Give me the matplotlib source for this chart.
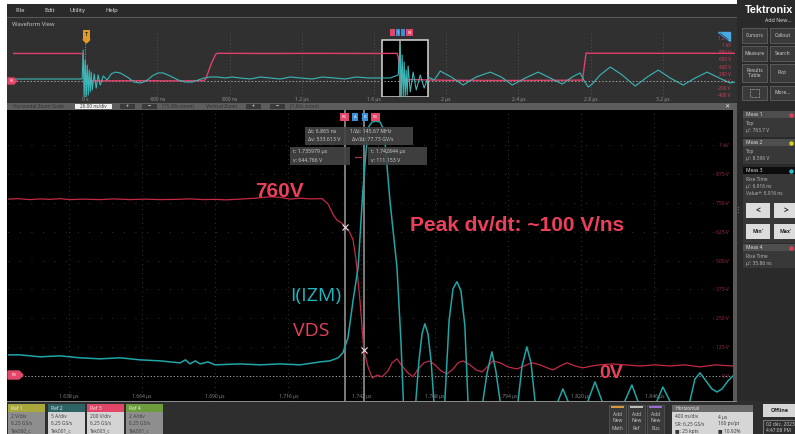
import matplotlib
matplotlib.use("Agg")
import matplotlib.pyplot as plt
from matplotlib.patches import Rectangle, Polygon
from matplotlib import transforms

# -----------------------------------------------------------------------------
# Data
# -----------------------------------------------------------------------------

# Zoomed window, 26 ns/div, time in ns
vds_t = [1616.5, 1620.0, 1624.3, 1628.0, 1631.4, 1635.0, 1638.5, 1643.0, 1649.2,
         1654.0, 1659.8, 1665.0, 1670.5, 1676.0, 1681.1, 1686.0, 1690.0, 1694.0,
         1698.9, 1704.2, 1709.5, 1713.1, 1716.6, 1720.2, 1723.7, 1728.0, 1730.1,
         1731.9, 1733.3, 1735.1, 1735.979, 1737.5, 1739.0, 1740.1, 1741.5, 1742.844,
         1744.3, 1745.8, 1747.6, 1749.3, 1751.4, 1752.8, 1754.6, 1756.4, 1758.5,
         1760.3, 1762.1, 1764.2, 1766.3, 1768.5, 1770.2, 1772.4, 1774.5, 1776.3,
         1778.0, 1780.5, 1782.7, 1784.8, 1786.6, 1788.7, 1791.2, 1794.0, 1797.2,
         1799.7, 1802.5, 1805.4, 1807.9, 1810.0, 1812.5, 1815.0, 1817.8, 1820.6,
         1823.8, 1826.7, 1830.9, 1835.5, 1840.9, 1846.2, 1851.5, 1856.8, 1862.2,
         1867.5, 1873.9]
vds_v = [766, 768, 764, 767, 765, 768, 764, 766, 764,
         767, 764, 766, 764, 765, 767, 764, 765, 763,
         766, 770, 776, 774, 766, 770, 767, 768, 745,
         700, 675, 662, 644.766, 630, 590, 500, 320, 111.153,
         40, -9, 4, -4, 22, 56, 74, 43, 13,
         -4, 30, 57, 65, 43, 22, 9, 30, 57,
         65, 48, 26, 17, 39, 65, 57, 39, 30,
         43, 57, 48, 35, 26, 43, 57, 43, 35,
         43, 48, 52, 48, 43, 48, 43, 48, 39,
         48, 43]

izm_t = [1616.5, 1620.8, 1627.9, 1635.0, 1642.1, 1649.2, 1656.3, 1663.4, 1670.5,
         1674.0, 1677.6, 1679.5, 1681.1, 1683.0, 1684.7, 1687.5, 1690.0, 1698.9,
         1706.0, 1713.1, 1720.2, 1725.0, 1727.3, 1730.8, 1733.7, 1735.4, 1737.2,
         1739.0, 1740.8, 1742.5, 1744.3, 1745.7, 1747.1, 1748.6, 1750.0, 1752.1,
         1754.6, 1756.0, 1757.1, 1759.3, 1761.3, 1762.4, 1763.5, 1764.5, 1765.6,
         1766.7, 1767.7, 1769.6, 1771.6, 1773.1, 1774.5, 1775.9, 1777.3, 1778.7,
         1779.8, 1782.4, 1785.1, 1786.6, 1788.3, 1789.7, 1791.2, 1794.4, 1797.6,
         1799.0, 1800.7, 1802.2, 1803.6, 1807.6, 1811.8, 1813.5, 1815.3, 1818.9,
         1822.4, 1824.9, 1827.4, 1831.3, 1835.5, 1838.0, 1840.1, 1843.6, 1846.9,
         1849.0, 1851.5, 1855.1, 1858.6, 1860.4, 1862.2, 1864.3, 1866.4, 1868.2,
         1870.0, 1872.1, 1873.9]
izm_a = [2.28, 2.28, 2.07, 2.17, 1.96, 1.85, 1.96, 1.74, 1.63,
         1.52, 1.41, 1.74, 1.30, 1.63, 1.30, 1.52, 1.20, 1.30,
         1.20, 1.30, 1.20, 1.41, 1.52, 1.63, 1.96, 2.5, 4.13,
         8.15, 11.74, 20.1, 26.85, 27.5, 27.6, 27.5, 26.6, 19.0,
         11.74, 3.8, -4.5, -8.0, -2.72, 1.63, 4.57, 5.65, 4.57,
         1.63, -2.72, -8.0, -2.72, 5.98, 9.46, 10.2, 9.24, 5.43,
         -2.72, -7.0, -2.72, 0.33, 2.61, 0.54, -2.72, -7.0, -2.72,
         1.09, 3.15, 1.41, -2.72, -6.0, -2.72, -1.41, -2.72, -6.0,
         -2.72, -0.65, -2.72, -6.0, -2.72, -0.98, -2.72, -6.0, -2.72,
         -1.2, -2.72, -6.0, -2.72, -0.33, 0.33, -0.54, -1.41, -1.74,
         -1.41, -0.54, 0.0]

# Overview record, 400 ns/div, time in us
ov_vds_t = [-0.4, -0.02, -0.012, -0.006, 0.0, 0.1, 0.3, 0.5, 0.655, 0.668, 0.70,
            0.725, 0.74, 1.0, 1.3, 1.6, 1.728, 1.735, 1.743, 1.747, 1.8, 2.0, 2.3,
            2.6, 2.755, 2.765, 2.775, 2.79, 3.2, 3.6]
ov_vds_v = [765, 765, 730, 80, 10, 5, 10, 5, 10, 60, 500,
            760, 770, 765, 768, 765, 768, 650, 110, -10, 40, 20, 15,
            20, 25, 400, 780, 770, 770, 770]

ov_izm_t = [-0.399, -0.139, -0.017, -0.011, -0.006, 0.0, 0.006, 0.011, 0.017, 0.022,
            0.028, 0.033, 0.039, 0.050, 0.061, 0.072, 0.083, 0.100, 0.122, 0.144,
            0.166, 0.194, 0.233, 0.271, 0.305, 0.338, 0.371, 0.404, 0.432, 0.471,
            0.515, 0.554, 0.593, 0.626, 0.659, 0.693, 0.731, 0.776, 0.814, 0.859,
            0.914, 0.970, 1.025, 1.080, 1.136, 1.191, 1.258, 1.313, 1.380, 1.440,
            1.501, 1.568, 1.634, 1.690, 1.734, 1.745, 1.751, 1.756, 1.762, 1.767,
            1.773, 1.778, 1.784, 1.789, 1.801, 1.817, 1.834, 1.856, 1.878, 1.900,
            1.934, 1.967, 2.028, 2.094, 2.166, 2.244, 2.305, 2.366, 2.438, 2.510,
            2.576, 2.643, 2.698, 2.742, 2.765, 2.787, 2.809, 2.853, 2.909, 2.975,
            3.047, 3.114, 3.175, 3.241, 3.313, 3.380, 3.446, 3.512, 3.573, 3.601]
ov_izm_a = [1.4, 1.4, 1.4, 21.5, -11.1, 14.6, -11.1, 11.1, -9.7, 7.6,
            -7.6, 6.2, -6.2, 4.9, -4.9, 4.2, -2.8, 3.5, 0.7, 4.9,
            6.2, 5.6, 2.8, -0.7, -1.4, 0.0, 3.5, 5.6, 5.6, 3.5,
            0.7, -0.7, -0.7, 0.7, 2.1, 2.8, 2.8, 2.1, 2.8, 2.1,
            1.4, 2.8, 2.1, 1.4, 2.8, 2.1, 1.4, 2.8, 2.1, 1.4,
            2.8, 2.1, 2.1, 2.1, 4.2, 25.0, -11.1, 18.0, -11.1, 13.2,
            -10.4, 7.6, -9.7, 10.4, -7.6, 6.2, -6.2, 4.2, -4.9, 2.8,
            0.7, 6.9, 2.8, -2.8, 2.8, 6.2, 2.8, -2.8, 2.1, 6.2,
            2.1, -2.1, 2.8, 5.6, 0.0, -4.2, -2.1, 4.2, 9.7, 4.2,
            -3.5, 2.8, 7.6, 2.1, -2.8, 2.1, 6.2, 2.1, -1.4, -0.7]

main_ticks = [1638, 1664, 1690, 1716, 1742, 1768, 1794, 1820, 1846]
main_tick_labels = ["1.638 µs", "1.664 µs", "1.690 µs", "1.716 µs", "1.742 µs",
                    "1.768 µs", "1.794 µs", "1.820 µs", "1.846 µs"]
main_levels = [0, 125, 250, 375, 500, 625, 750, 875, 1000]
main_level_labels = ["0 V", "125 V", "250 V", "375 V", "500 V", "625 V",
                     "750 V", "875 V", "1 kV"]
ov_ticks = [0, 0.4, 0.8, 1.2, 1.6, 2.0, 2.4, 2.8, 3.2]
ov_tick_labels = ["0 s", "400 ns", "800 ns", "1.2 µs", "1.6 µs", "2 µs",
                  "2.4 µs", "2.8 µs", "3.2 µs"]
ov_levels = [-400, -200, 0, 200, 400, 600, 800, 1000, 1200]
ov_level_labels = ["-400 V", "-200 V", "0 V", "200 V", "400 V", "600 V",
                   "800 V", "1 kV", "1.2 kV"]

cursor_t = [1735.979, 1742.844]
cursor_v = [644.766, 111.153]
zoom_box_us = [1.645, 1.900]

# -----------------------------------------------------------------------------
# Style
# -----------------------------------------------------------------------------

plt.rcParams["font.family"] = ["Open Sans", "DejaVu Sans"]
W, H = 795, 434
RED = "#c42a45"
RED_OV = "#e0406a"
CYAN = "#1fa6a6"
CYAN_OV = "#3cb6b6"
NOTE_RED = "#ec3f5c"
PINK = "#e2476a"
BLUE = "#3a8fd8"


def frac(x0, y0, x1, y1):
    return [x0 / W, 1 - y1 / H, (x1 - x0) / W, (y1 - y0) / H]


def box(axis, x0, y0, x1, y1, fc, ec="none", lw=0.6, alpha=1.0):
    axis.add_patch(Rectangle((x0, y0), x1 - x0, y1 - y0, facecolor=fc,
                             edgecolor=ec, linewidth=lw, alpha=alpha))


def txt(axis, x, y, s, size=3.8, color="#d0d0d0", **kw):
    kw.setdefault("va", "center")
    axis.text(x, y, s, fontsize=size, color=color, **kw)


def pixel_axes(fig, z):
    a = fig.add_axes([0, 0, 1, 1])
    a.set_xlim(0, W)
    a.set_ylim(H, 0)
    a.axis("off")
    a.set_zorder(z)
    a.patch.set_visible(False)
    return a


fig = plt.figure(figsize=(W / 100, H / 100), dpi=100, facecolor="white")
bg = pixel_axes(fig, 0)

# -----------------------------------------------------------------------------
# Window chrome
# -----------------------------------------------------------------------------

box(bg, 7, 4, 737, 17, "#2a2a2a")
for x, s in [(15, "File"), (44, "Edit"), (70, "Utility"), (105, "Help")]:
    txt(bg, x, 10.5, s, 4.2, "#e8e8e8")
box(bg, 7, 17, 737, 103, "#303030")
box(bg, 7, 17, 737, 17.7, "#5a5a5a")
txt(bg, 12, 24, "Waveform View", 4.2, "#cfcfcf")

# zoom toolbar
box(bg, 7, 103, 737, 110, "#5d5d5d")
dark = "#2a2a2a"
txt(bg, 13, 106.5, "Horizontal Zoom Scale", 3.5, dark)
box(bg, 75, 104, 112, 109.3, "#f0f0f0")
txt(bg, 93.5, 106.6, "26.00 ns/div", 3.4, dark, ha="center")
for x0, s in [(120, "+"), (142, "−"), (246, "+"), (270, "−")]:
    box(bg, x0, 104, x0 + 15, 109.3, "#3a3a3a")
    txt(bg, x0 + 7.5, 106.5, s, 4, "white", ha="center")
txt(bg, 162, 106.5, "(15.38x zoom)", 3.5, dark)
txt(bg, 206, 106.5, "Vertical Zoom", 3.5, dark)
txt(bg, 290, 106.5, "(1.60x zoom)", 3.5, dark)
txt(bg, 727, 106.5, "✕", 4.5, "#e8e8e8", ha="center")

box(bg, 7, 110, 733, 401, "black")
box(bg, 733, 110, 737, 401, "#5a5a5a")
txt(bg, 738.5, 210, "⋮", 5, "#9a9a9a", ha="center")

# bottom bar
box(bg, 7, 401, 795, 434, "#2e2e2e")
box(bg, 7, 400.5, 737, 401.8, "#8a8a8a")
refs = [
    (8, "Ref 1", "#a8a83c", "#8e8e8e", ["2 V/div", "6.25 GS/s", "Tek000_c"]),
    (48, "Ref 2", "#2e6466", "#d4d4d4", ["5 A/div", "6.25 GS/s", "Tek001_c"]),
    (87, "Ref 3", PINK, "#d4d4d4", ["200 V/div", "6.25 GS/s", "Tek003_c"]),
    (126, "Ref 4", "#6d9c3c", "#8e8e8e", ["2 A/div", "6.25 GS/s", "Tek001_c"]),
]
for x0, name, head, body, lines in refs:
    box(bg, x0, 404, x0 + 37, 412, head)
    box(bg, x0, 412, x0 + 37, 434, body)
    txt(bg, x0 + 3, 408, name, 3.6, "#f2f2f2")
    for i, s in enumerate(lines):
        txt(bg, x0 + 3, 416.5 + 7 * i, s, 3.5, "#3a3a3a")

for x0, word, stripe in [(609, "Math", "#d9963a"), (628, "Ref", "#bbbbbb"),
                         (647, "Bus", "#9c6cd6")]:
    box(bg, x0, 405, x0 + 17, 434, "#3a3a3a", "#5a5a5a", 0.5)
    box(bg, x0 + 2, 406, x0 + 15, 407.6, stripe)
    for i, s in enumerate(["Add", "New", word]):
        txt(bg, x0 + 8.5, 414 + 7 * i, s, 3.5, "#cfcfcf", ha="center")

box(bg, 672, 405, 753, 412, "#6a6a6a")
box(bg, 672, 412, 753, 434, "#d6d6d6")
txt(bg, 675, 408.5, "Horizontal", 3.6, "#eeeeee")
for i, (a, b) in enumerate([("400 ns/div", "4 µs"), ("SR: 6.25 GS/s", "160 ps/pt"),
                            ("■: 25 kpts", "■ 10.92%")]):
    txt(bg, 675, 417 + 7 * i, a, 3.5, "#333333")
    txt(bg, 718, 417 + 7 * i, b, 3.5, "#333333")

box(bg, 763, 404, 798, 417, "#d6d6d6")
txt(bg, 780, 410.5, "Offline", 3.8, "#222222", ha="center", fontweight="bold")
box(bg, 763, 420, 798, 436, "#2e2e2e", "#8a8a8a", 0.6)
txt(bg, 766, 425, "02 déc. 2023", 3.5, "#cfcfcf")
txt(bg, 766, 431, "4:47:08 PM", 3.5, "#cfcfcf")

# right side panel
box(bg, 737, 0, 795, 401, "#2a2a2a")
txt(bg, 745, 10, "Tektronix", 7.8, "white", fontfamily="Liberation Sans",
    fontweight="bold")
txt(bg, 778, 21, "Add New...", 3.8, "#e0e0e0", ha="center")
buttons = [(28, 43, "Cursors", "Callout"), (46, 61, "Measure", "Search"),
           (64, 82, "Results\nTable", "Plot"), (86, 100, "", "More...")]
for y0, y1, left, right in buttons:
    for x0, s in [(742, left), (770, right)]:
        box(bg, x0, y0, x0 + 25, y1, "#3a3a3a", "#6a6a6a", 0.5)
        txt(bg, x0 + 12.5, (y0 + y1) / 2, s, 3.6, "#d8d8d8", ha="center",
            linespacing=1.0)
bg.add_patch(Rectangle((750, 89), 9, 8, facecolor="none", edgecolor="#cfcfcf",
                       linewidth=0.5, linestyle=(0, (1, 1))))

meas = [
    (111, 137, "Meas 1", "#e0405c", ["Top", "µ': 763.7 V"], "#4e4e4e"),
    (139, 164, "Meas 2", "#d6d020", ["Top", "µ': 8.596 V"], "#4e4e4e"),
    (167, 243, "Meas 3", "#2cc0d0", ["Rise Time", "µ': 6.916 ns",
                                     "Value*: 6.916 ns"], "#0c0c0c"),
    (244, 268, "Meas 4", "#e0405c", ["Rise Time", "µ': 35.86 ns"], "#4e4e4e"),
]
for y0, y1, name, dot, lines, head in meas:
    box(bg, 743, y0, 796, y0 + 7, head)
    box(bg, 743, y0 + 7, 796, y1, "#383838")
    txt(bg, 746, y0 + 3.7, name, 3.6, "#e6e6e6")
    bg.plot([791], [y0 + 3.5], "o", ms=2.2, color=dot)
    for i, s in enumerate(lines):
        txt(bg, 746, y0 + 12.5 + 7.2 * i, s, 3.5, "#bdbdbd")
for y0, l, r in [(203, "<", ">"), (224, "Min'", "Max'")]:
    box(bg, 746, y0, 770, y0 + 15, "#dcdcdc")
    box(bg, 774, y0, 797, y0 + 15, "#dcdcdc")
    size = 6 if l == "<" else 3.6
    txt(bg, 758, y0 + 7.5, l, size, "#222222", ha="center", fontweight="bold")
    txt(bg, 785.5, y0 + 7.5, r, size, "#222222", ha="center", fontweight="bold")

# -----------------------------------------------------------------------------
# Overview waveform
# -----------------------------------------------------------------------------

ov = fig.add_axes(frac(13, 30, 735, 97))
ov.set_facecolor("#303030")
ov2 = ov.twinx()
ov.set_xlim(-0.4, 3.6)
ov.set_ylim(-444, 1417)
ov2.set_ylim(-444 / 40, 1417 / 40)

tr = transforms.blended_transform_factory(ov.transData, ov.transAxes)
ov.add_patch(Rectangle((zoom_box_us[0], 0.0), zoom_box_us[1] - zoom_box_us[0], 0.85,
                       transform=tr, facecolor="black", edgecolor="#d8d8d8",
                       linewidth=1.1, zorder=1.5))
for t in cursor_t:
    ov.axvline(t / 1000, ymax=0.85, color="#bdbdbd", lw=0.5, zorder=1.6)
ov.axhline(0, color="#a0a0a0", lw=0.7, ls=(0, (1.5, 2)), zorder=1.7)
ov.axvline(0, color="#b0b0b0", lw=0.6, ls=(0, (1, 2)), zorder=1.7)
ov.plot(ov_vds_t, ov_vds_v, color=RED_OV, lw=1.0, zorder=2)
ov2.plot(ov_izm_t, ov_izm_a, color=CYAN_OV, lw=0.8)

ov.set_xticks(ov_ticks, ov_tick_labels)
ov.xaxis.grid(True, color="#5c5c5c", lw=0.6, ls=(0, (1, 3)))
ov.tick_params(axis="x", length=0, pad=0.3, labelsize=3.6, labelcolor="#9a9a9a")
ov2.set_yticks([])
ov.yaxis.tick_right()
ov.set_yticks(ov_levels, ov_level_labels)
ov.tick_params(axis="y", length=0, pad=-3, labelsize=3.3, labelcolor="#d04060")
for lab in ov.get_yticklabels():
    lab.set_horizontalalignment("right")
for a in (ov, ov2):
    for sp in a.spines.values():
        sp.set_visible(False)

# -----------------------------------------------------------------------------
# Zoomed waveform
# -----------------------------------------------------------------------------

ax = fig.add_axes(frac(8, 110, 733, 401))
ax.set_facecolor("black")
ax2 = ax.twinx()
ax.set_xlim(1616.5, 1873.9)
ax.set_ylim(-108.7, 1152.2)
ax2.set_ylim(-108.7 * 0.025, 1152.2 * 0.025)
ax.set_axisbelow(True)

ax.set_xticks(main_ticks, main_tick_labels)
ax.xaxis.grid(True, color="#474747", lw=0.8, ls=(0, (0.6, 3.5)))
ax.yaxis.tick_right()
ax.set_yticks(main_levels, main_level_labels)
ax.yaxis.grid(True, color="#474747", lw=0.8, ls=(0, (0.6, 9.8)))
ax.tick_params(axis="x", length=0, pad=-4.8, labelsize=3.6, labelcolor="#8a8a8a")
ax.tick_params(axis="y", length=0, pad=-3, labelsize=3.6, labelcolor="#9a2c44")
for lab in ax.get_yticklabels():
    lab.set_horizontalalignment("right")
ax2.set_yticks([])
for a in (ax, ax2):
    for sp in a.spines.values():
        sp.set_visible(False)

ax.axhline(0, color="#a8a8a8", lw=0.7, ls=(0, (1.2, 2.2)))
for t in cursor_t:
    ax.axvline(t, color="#9c9c9c", lw=1.1)
ax.plot(vds_t, vds_v, color=RED, lw=0.9)
ax2.plot(izm_t, izm_a, color=CYAN, lw=1.1)
ax.plot(cursor_t, cursor_v, "x", color="#e8e8e8", ms=4.5, mew=0.8)

# -----------------------------------------------------------------------------
# Overlays: markers, cursor readouts, notes
# -----------------------------------------------------------------------------

fg = pixel_axes(fig, 10)

# trigger marker
box(fg, 83, 30, 90, 39.5, "#e49a2a")
fg.add_patch(Polygon([(83, 39.5), (90, 39.5), (86.5, 43)], color="#e49a2a"))
txt(fg, 86.5, 34.8, "T", 3.6, "#3a2a00", ha="center", fontweight="bold")

# zoom box tags
for x0, x1, c, s in [(390, 395, PINK, ""), (396, 400, BLUE, "1"),
                     (400.5, 404.5, BLUE, ""), (406, 413, PINK, "R3")]:
    box(fg, x0, 29, x1, 36, c)
    txt(fg, (x0 + x1) / 2, 32.5, s, 2.6, "white", ha="center")

# corner icon of the overview
fg.add_patch(Polygon([(718, 32), (730, 32), (730, 41)], color="#4aa8e0"))
fg.plot([720, 728], [33, 39.5], color="#1e4e70", lw=0.6)

# channel offset markers
fg.add_patch(Polygon([(8, 78), (14, 78), (16.5, 81), (14, 84), (8, 84)], color=PINK))
txt(fg, 11.5, 81, "R3", 2.4, "white", ha="center")
fg.add_patch(Polygon([(8, 371), (19, 371), (23, 375), (19, 379), (8, 379)], color=PINK))
txt(fg, 14, 375, "R3", 3, "white", ha="center")

# cursor tags
for x0, x1, c, s in [(340, 349, PINK, "R3"), (352, 358, BLUE, "A"),
                     (362, 368, BLUE, "B"), (371, 380, PINK, "R3")]:
    box(fg, x0, 113, x1, 121, c)
    txt(fg, (x0 + x1) / 2, 117, s, 3, "white", ha="center")

# cursor readouts
rc = "#d2d2d2"
box(fg, 305, 127, 413, 144.5, "#444444", alpha=0.93)
txt(fg, 308, 131.5, "Δt: 6.865 ns", 3.8, rc)
txt(fg, 350, 131.5, "1/Δt: 145.67 MHz", 3.8, rc)
txt(fg, 308, 139.8, "Δv: 533.613 V", 3.8, rc)
txt(fg, 352, 139.8, "Δv/Δt: 77.73 GV/s", 3.8, rc)
box(fg, 290, 147, 350, 165, "#444444", alpha=0.93)
txt(fg, 293, 152, "t: 1.735979 µs", 3.8, rc)
txt(fg, 293, 160, "v: 644.766 V", 3.8, rc)
box(fg, 368, 147, 427, 165, "#444444", alpha=0.93)
txt(fg, 371, 152, "t: 1.742844 µs", 3.8, rc)
txt(fg, 371, 160, "v: 111.153 V", 3.8, rc)
fg.plot([355, 361], [157, 157], color="#c03050", lw=0.8)

# notes written on the screenshot
note = dict(transform=ax.transData, fontfamily="Liberation Sans",
            fontweight="bold", color=NOTE_RED, va="baseline")
fg.text(1704.2, 774, "760V", fontsize=15, **note)
fg.text(1759.2, 630, "Peak dv/dt: ~100 V/ns", fontsize=15, **note)
fg.text(1826.3, -8.7, "0V", fontsize=14, **note)
fg.text(1716.6, 326, "I(IZM)", fontsize=14, color="#1fb5c2", va="baseline",
        transform=ax.transData)
fg.text(1717.6, 174, "VDS", fontsize=14, color="#e4405e", va="baseline",
        transform=ax.transData)

fig.savefig("out.png", dpi=100, facecolor="white")
